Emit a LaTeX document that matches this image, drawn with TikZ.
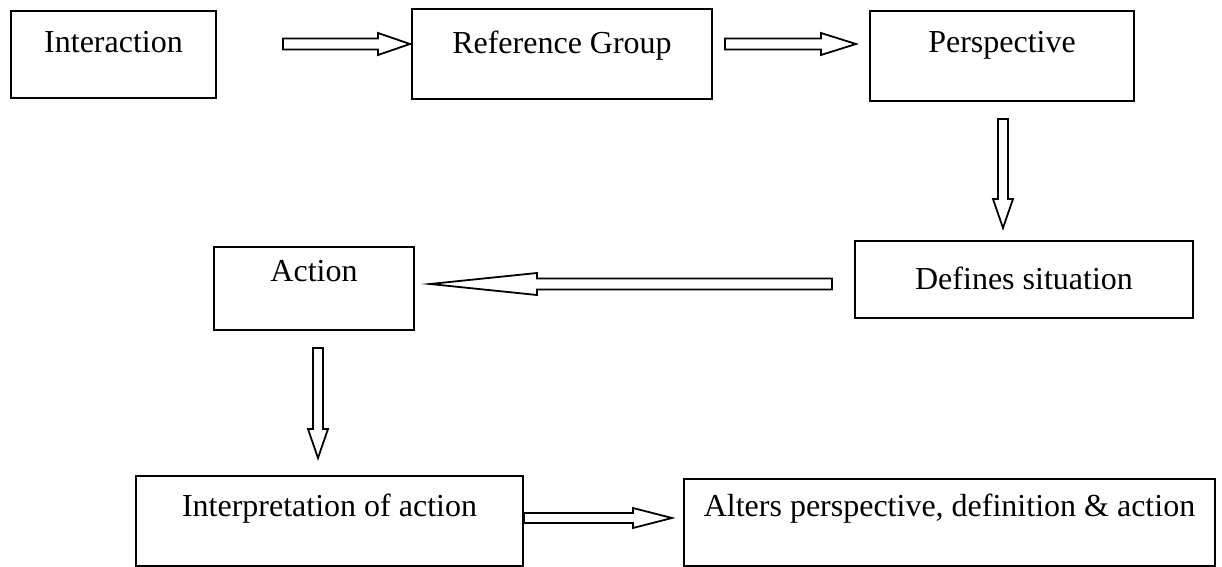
\documentclass[tikz,border=0pt]{standalone}
\usepackage{fontspec}
\setmainfont{Liberation Serif}
\usetikzlibrary{calc}

% Hollow block arrow: #1 tail, #2 tip, #3 shaft half-width, #4 head half-width, #5 head length
\newcommand{\hollowarrow}[5]{%
  \coordinate (ha-base) at ($(#2)!#5!(#1)$);
  \draw[arrowline]
    ($(#1)!#3!90:(#2)$) -- ($(ha-base)!#3!-90:(#1)$) -- ($(ha-base)!#4!-90:(#1)$)
    -- (#2) -- ($(ha-base)!#4!90:(#1)$) -- ($(ha-base)!#3!90:(#1)$)
    -- ($(#1)!#3!-90:(#2)$) -- cycle;
}

\begin{document}
\begin{tikzpicture}[x=0.5pt, y=-0.5pt,
  box/.style={draw, line width=1pt, inner sep=0pt, anchor=north west,
    font=\fontsize{16}{19}\selectfont},
  arrowline/.style={draw, line width=0.9pt, line join=miter, fill=white}]
\useasboundingbox (0,0) rectangle (1222,567);

% boxes: width, baseline offset (text height), remainder below baseline (text depth)
\node[box, minimum width=102.5pt, text height=21pt, text depth=22.5pt] (inter) at (10,10) {Interaction};
\node[box, minimum width=150pt, text height=22.5pt, text depth=22.5pt] (refg) at (411,8) {Reference Group};
\node[box, minimum width=132pt, text height=21pt, text depth=24pt] (persp) at (869,10) {Perspective};
\node[box, minimum width=169pt, text height=24pt, text depth=14.5pt] (defs) at (854,240) {Defines situation};
\node[box, minimum width=100pt, text height=17pt, text depth=24.5pt] (act) at (213,246) {Action};
\node[box, minimum width=193.5pt, text height=20pt, text depth=25pt] (interp) at (135,475) {Interpretation of action};
\node[box, minimum width=265.5pt, text height=18.5pt, text depth=25pt] (alters) at (683,478) {Alters perspective, definition \& action};

% arrow end points
\coordinate (a1t) at ($(inter.east |- 0,44) + (33pt,0)$);
\coordinate (a1h) at ($(refg.west |- 0,44) + (-0.5pt,0)$);
\coordinate (a2t) at ($(refg.east |- 0,44) + (6pt,0)$);
\coordinate (a2h) at ($(persp.west |- 0,44) + (-6.5pt,0)$);
\coordinate (a3t) at ($(persp.south) + (0.5pt,-8.5pt)$);
\coordinate (a3h) at ($(defs.north -| a3t) + (0,6pt)$);
\coordinate (a4t) at ($(defs.west |- 0,284) + (-11pt,0)$);
\coordinate (a4h) at ($(act.east |- 0,284) + (7.5pt,0)$);
\coordinate (a5t) at ($(act.south) + (2pt,-8.5pt)$);
\coordinate (a5h) at ($(interp.north -| a5t) + (0,8.5pt)$);
\coordinate (a6t) at (interp.east |- 0,518);
\coordinate (a6h) at ($(alters.west |- 0,518) + (-5.5pt,0)$);

\hollowarrow{a1t}{a1h}{2.75pt}{5.5pt}{16pt}
\hollowarrow{a2t}{a2h}{2.75pt}{5.5pt}{17.5pt}
\hollowarrow{a3t}{a3h}{2.5pt}{5pt}{14.5pt}
\hollowarrow{a4t}{a4h}{2.75pt}{5.5pt}{53.5pt}
\hollowarrow{a5t}{a5h}{2.5pt}{5pt}{14.5pt}
\hollowarrow{a6t}{a6h}{2.5pt}{5pt}{19.5pt}
\end{tikzpicture}
\end{document}
